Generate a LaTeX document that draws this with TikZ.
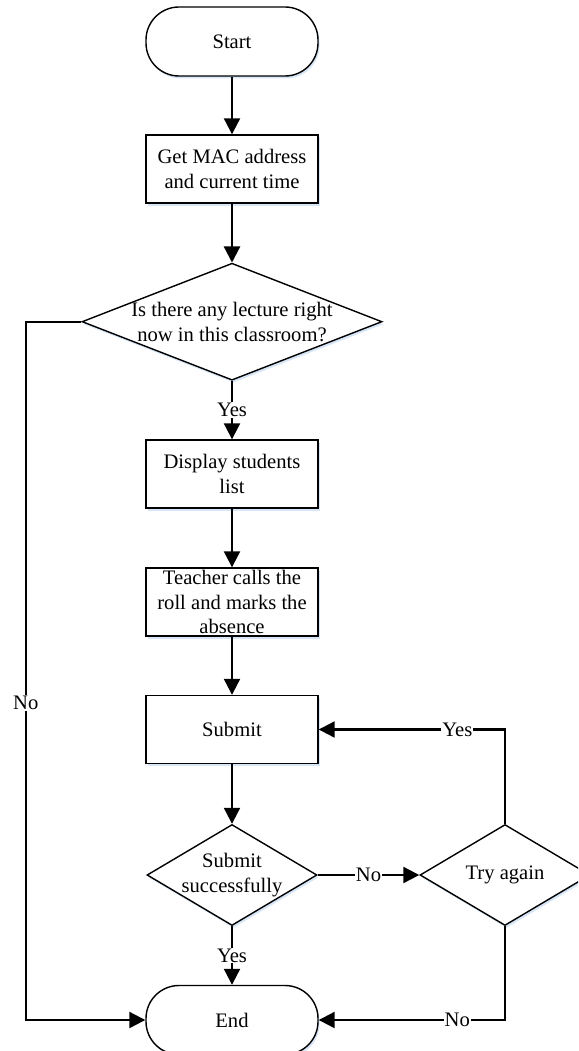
\documentclass[tikz,border=0pt]{standalone}
\usepackage{fontspec}
\setmainfont{Liberation Serif}
\usetikzlibrary{shapes.geometric,arrows.meta,shadows}

\definecolor{glow}{RGB}{205,224,244}

\tikzset{
  base/.style={draw, line width=1.4pt, fill=white, inner sep=0pt, align=center,
    font=\fontsize{20.6}{25}\selectfont,
    drop shadow={shadow xshift=1.5pt, shadow yshift=-2.5pt, fill=glow, opacity=0.8}},
  terminal/.style={base, rectangle, rounded corners=33pt, minimum width=172pt, minimum height=69pt},
  process/.style={base, rectangle, minimum width=172pt, minimum height=68pt},
  bigdecision/.style={base, diamond, minimum width=300pt, minimum height=117pt},
  decision/.style={base, diamond, minimum width=170pt, minimum height=101pt},
  txt/.style={inner sep=0pt, align=center, font=\fontsize{20.6}{25}\selectfont},
  flow/.style={line width=2.2pt, -{Triangle[length=16pt, width=16pt]}},
  lbl/.style={fill=white, inner sep=1pt, font=\fontsize{20.6}{24}\selectfont},
}

\begin{document}
\begin{tikzpicture}[x=1pt, y=-1pt]
  \clip (0,0) rectangle (578,1051);

  % main column
  \node[terminal] (start) at (232,41.5) {Start};
  \node[process] (mac) at (232,169) {Get MAC address\\and current time};
  \node[bigdecision] (lecture) at (232,321.7) {};
  \node[txt] (lecturetxt) at (lecture) {Is there any lecture right\\now in this classroom?};
  \node[process] (list) at (232,474) {Display students\\list};
  \node[process, font=\fontsize{20.6}{24.3}\selectfont] (roll) at (232,602) {Teacher calls the\\roll and marks the\\absence};
  \node[process] (submit) at (232,729.5) {Submit};
  \node[decision] (ok) at (232,875) {};
  \node[txt] (oktxt) at (ok) {Submit\\successfully};
  \node[decision] (retry) at (505,875) {};
  \node[txt] (retrytxt) at (retry) {Try again};
  \node[terminal] (end) at (232,1020) {End};

  \coordinate (leftrail) at (25.8,1020);

  % connectors
  \draw[flow] (start) -- (mac);
  \draw[flow] (mac) -- (lecture);
  \draw[flow] (lecture.south) -- node[lbl] {Yes} (list.north);
  \draw[flow] (list) -- (roll);
  \draw[flow] (roll) -- (submit);
  \draw[flow] (submit) -- (ok);
  \draw[flow] (ok.south) -- node[lbl] {Yes} (end.north);
  \draw[flow] (ok.east) -- node[lbl] {No} (retry.west);
  \draw[flow] (retry.north) |- node[lbl, pos=0.628] {Yes} (submit.east);
  \draw[flow] (retry.south) |- node[lbl, pos=0.628] {No} (end.east);
  \draw[flow] (lecture.west) -| (leftrail) node[lbl, pos=0.773] {No} -- (end.west);
\end{tikzpicture}
\end{document}
